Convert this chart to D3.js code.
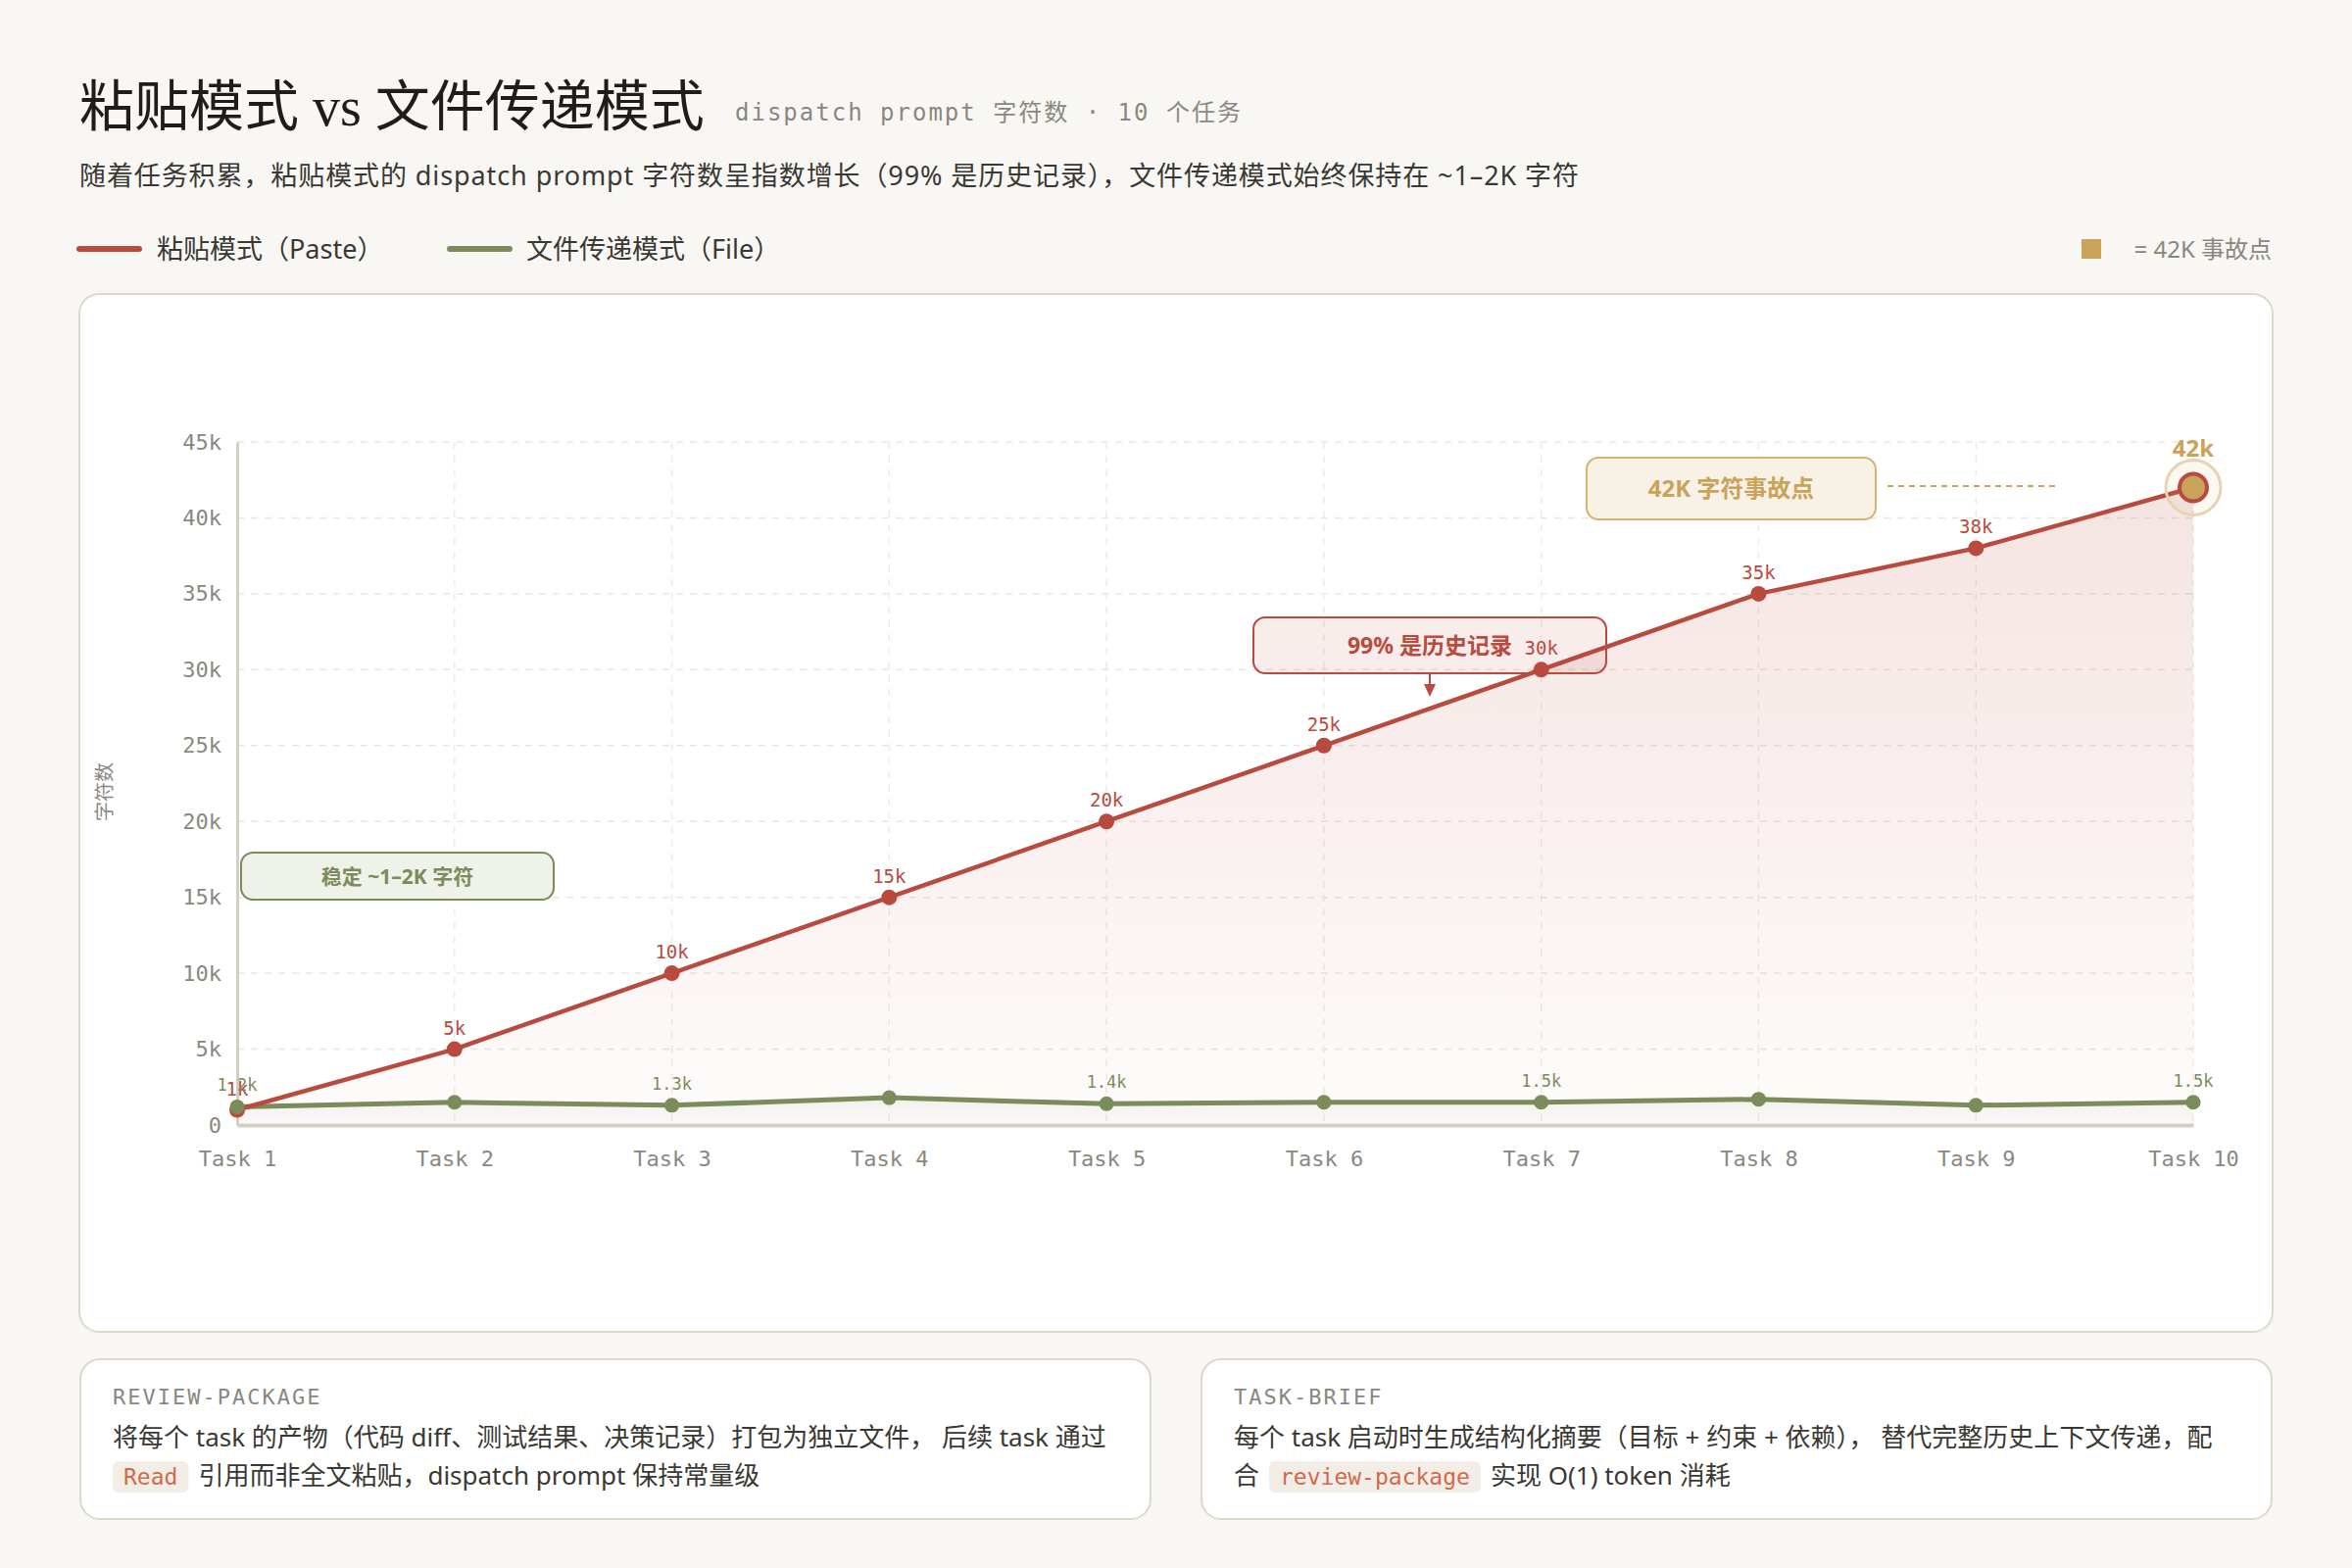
<!DOCTYPE html>
<html>
<head>
<meta charset="utf-8">
<script src="https://cdn.jsdelivr.net/npm/d3@7"></script>
<style>
  body { margin: 0; background: #f9f7f3; }
</style>
</head>
<body>
<div id="chart"></div>
<script>
// chart data
const tasks = ["Task 1", "Task 2", "Task 3", "Task 4", "Task 5", "Task 6", "Task 7", "Task 8", "Task 9", "Task 10"];
const pasteValues = [1000, 5000, 10000, 15000, 20000, 25000, 30000, 35000, 38000, 42000];
const pasteLabels = ["1k", "5k", "10k", "15k", "20k", "25k", "30k", "35k", "38k", "42k"];
const fileValues = [1200, 1500, 1300, 1800, 1400, 1500, 1500, 1700, 1300, 1500];
const fileLabels = ["1.2k", "", "1.3k", "", "1.4k", "", "1.5k", "", "", "1.5k"];
const yTicks = [0, 5000, 10000, 15000, 20000, 25000, 30000, 35000, 40000, 45000];

const width = 2400, height = 1600;
const RED = "#b84a3e", GREEN = "#7a8c5a", GOLD = "#c9a35a", GRAY = "#8a877f", INK = "#3a3833";
const SANS = "'Noto Sans','Noto Sans CJK SC',sans-serif";
const MONO = "'DejaVu Sans Mono','Noto Sans CJK SC',monospace";
const SERIF = "'Liberation Serif','Noto Sans CJK SC',serif";

const svg = d3.select("#chart").append("svg")
  .attr("width", width).attr("height", height)
  .style("display", "block")
  .style("background", "#f9f7f3");

const defs = svg.append("defs");
let g1 = defs.append("linearGradient").attr("id", "redFill")
  .attr("gradientUnits", "userSpaceOnUse").attr("x1", 0).attr("x2", 0).attr("y1", 451).attr("y2", 1148);
g1.append("stop").attr("offset", "0%").attr("stop-color", RED).attr("stop-opacity", 0.16);
g1.append("stop").attr("offset", "100%").attr("stop-color", RED).attr("stop-opacity", 0.02);
let g2 = defs.append("linearGradient").attr("id", "greenFill")
  .attr("gradientUnits", "userSpaceOnUse").attr("x1", 0).attr("x2", 0).attr("y1", 1115).attr("y2", 1148);
g2.append("stop").attr("offset", "0%").attr("stop-color", GREEN).attr("stop-opacity", 0.10);
g2.append("stop").attr("offset", "100%").attr("stop-color", GREEN).attr("stop-opacity", 0.02);

// header
svg.append("text").attr("x", 81).attr("y", 128)
  .attr("font-family", SERIF).attr("font-size", 56).attr("fill", "#1f1d1a")
  .text("粘贴模式 vs 文件传递模式");
svg.append("text").attr("x", 750).attr("y", 123)
  .attr("font-family", MONO).attr("font-size", 24).attr("letter-spacing", 2).attr("fill", GRAY)
  .text("dispatch prompt 字符数 · 10 个任务");
svg.append("text").attr("x", 81).attr("y", 189)
  .attr("font-family", SANS).attr("font-size", 27).attr("fill", INK)
  .attr("textLength", 1530).attr("lengthAdjust", "spacing")
  .text("随着任务积累，粘贴模式的 dispatch prompt 字符数呈指数增长（99% 是历史记录），文件传递模式始终保持在 ~1–2K 字符");

// legend
svg.append("line").attr("x1", 81).attr("x2", 142).attr("y1", 254).attr("y2", 254)
  .attr("stroke", RED).attr("stroke-width", 6).attr("stroke-linecap", "round");
svg.append("text").attr("x", 160).attr("y", 264).attr("font-family", SANS).attr("font-size", 27).attr("fill", INK)
  .text("粘贴模式（Paste）");
svg.append("line").attr("x1", 459).attr("x2", 520).attr("y1", 254).attr("y2", 254)
  .attr("stroke", GREEN).attr("stroke-width", 6).attr("stroke-linecap", "round");
svg.append("text").attr("x", 537).attr("y", 264).attr("font-family", SANS).attr("font-size", 27).attr("fill", INK)
  .text("文件传递模式（File）");
svg.append("rect").attr("x", 2124).attr("y", 244).attr("width", 20).attr("height", 20).attr("fill", GOLD);
svg.append("text").attr("x", 2318).attr("y", 263).attr("text-anchor", "end")
  .attr("font-family", SANS).attr("font-size", 24).attr("fill", GRAY)
  .text("= 42K 事故点");

// chart frame
svg.append("rect").attr("x", 81).attr("y", 300).attr("width", 2238).attr("height", 1059)
  .attr("rx", 20).attr("fill", "#fff").attr("stroke", "#dcd8cd").attr("stroke-width", 2);

// scales
const x = d3.scalePoint().domain(tasks).range([242, 2238]);
const y = d3.scaleLinear().domain([0, 45000]).range([1148, 451]);

// grid
svg.append("g").selectAll("line").data(yTicks.slice(1)).enter().append("line")
  .attr("x1", 242).attr("x2", 2238).attr("y1", d => y(d)).attr("y2", d => y(d))
  .attr("stroke", "#ebe7df").attr("stroke-width", 1.5).attr("stroke-dasharray", "7,7");
svg.append("g").selectAll("line").data(tasks.slice(1)).enter().append("line")
  .attr("x1", d => x(d)).attr("x2", d => x(d)).attr("y1", y(45000)).attr("y2", y(0))
  .attr("stroke", "#efebe4").attr("stroke-width", 1.5).attr("stroke-dasharray", "7,7");

// areas
const pasteData = tasks.map((t, i) => ({ t: t, v: pasteValues[i], label: pasteLabels[i] }));
const fileData = tasks.map((t, i) => ({ t: t, v: fileValues[i], label: fileLabels[i] }));
svg.append("path").datum(pasteData)
  .attr("d", d3.area().x(d => x(d.t)).y0(y(0)).y1(d => y(d.v)))
  .attr("fill", "url(#redFill)");
svg.append("path").datum(fileData)
  .attr("d", d3.area().x(d => x(d.t)).y0(y(0)).y1(d => y(d.v)))
  .attr("fill", "url(#greenFill)");

// axes
let yAxis = d3.axisLeft(y).tickValues(yTicks).tickSize(0).tickPadding(16)
  .tickFormat(d => d === 0 ? "0" : (d / 1000) + "k");
let yG = svg.append("g").attr("transform", "translate(242,0)").call(yAxis);
yG.select(".domain").attr("stroke", "#d3cfc4").attr("stroke-width", 3);
yG.selectAll("text").attr("font-family", MONO).attr("font-size", 22).attr("fill", GRAY);

let xAxis = d3.axisBottom(x).tickSize(0).tickPadding(26);
let xG = svg.append("g").attr("transform", "translate(0,1148)").call(xAxis);
xG.select(".domain").attr("stroke", "#d3cfc4").attr("stroke-width", 4);
xG.selectAll("text").attr("font-family", MONO).attr("font-size", 22).attr("fill", GRAY);

svg.append("text").attr("transform", "translate(114,808) rotate(-90)")
  .attr("text-anchor", "middle").attr("font-family", SANS).attr("font-size", 20).attr("fill", GRAY)
  .text("字符数");

// annotation boxes
function noteBox(x0, y0, w, h, fill, stroke, color, label, size) {
  svg.append("rect").attr("x", x0).attr("y", y0).attr("width", w).attr("height", h).attr("rx", 12)
    .attr("fill", fill).attr("stroke", stroke).attr("stroke-width", 2);
  svg.append("text").attr("x", x0 + w / 2).attr("y", y0 + h / 2).attr("dy", "0.36em")
    .attr("text-anchor", "middle").attr("font-family", SANS).attr("font-weight", 700)
    .attr("font-size", size).attr("fill", color).text(label);
}
noteBox(246, 870, 319, 48, "#eef2e9", GREEN, GREEN, "稳定 ~1–2K 字符", 21);
noteBox(1279, 630, 360, 57, "rgba(184,74,62,0.10)", RED, RED, "99% 是历史记录", 23);
svg.append("line").attr("x1", 1459).attr("x2", 1459).attr("y1", 687).attr("y2", 700)
  .attr("stroke", RED).attr("stroke-width", 2);
svg.append("path").attr("d", "M1453,698L1465,698L1459,711Z").attr("fill", RED);
noteBox(1619, 467, 295, 63, "#f8f2e6", "#d6b46e", GOLD, "42K 字符事故点", 24);
svg.append("line").attr("x1", 1926).attr("x2", 2099).attr("y1", 496).attr("y2", 496)
  .attr("stroke", GOLD).attr("stroke-width", 2).attr("stroke-dasharray", "6,5");

// lines
svg.append("path").datum(fileData)
  .attr("d", d3.line().x(d => x(d.t)).y(d => y(d.v)))
  .attr("fill", "none").attr("stroke", GREEN).attr("stroke-width", 5).attr("stroke-linejoin", "round");
svg.append("path").datum(pasteData)
  .attr("d", d3.line().x(d => x(d.t)).y(d => y(d.v)))
  .attr("fill", "none").attr("stroke", RED).attr("stroke-width", 4.5).attr("stroke-linejoin", "round");

// paste points and labels
let pLast = pasteData[pasteData.length - 1];
svg.append("g").selectAll("circle").data(pasteData.slice(0, -1)).enter().append("circle")
  .attr("cx", d => x(d.t)).attr("cy", d => y(d.v)).attr("r", 8).attr("fill", RED);
svg.append("g").selectAll("text").data(pasteData.slice(0, -1)).enter().append("text")
  .attr("x", d => x(d.t)).attr("y", d => y(d.v) - 15).attr("text-anchor", "middle")
  .attr("font-family", MONO).attr("font-size", 19).attr("fill", RED)
  .text(d => d.label);

// file points and labels
svg.append("g").selectAll("circle").data(fileData).enter().append("circle")
  .attr("cx", d => x(d.t)).attr("cy", d => y(d.v)).attr("r", 7.5).attr("fill", GREEN);
svg.append("g").selectAll("text").data(fileData.filter(d => d.label)).enter().append("text")
  .attr("x", d => x(d.t)).attr("y", d => y(d.v) - 16).attr("text-anchor", "middle")
  .attr("font-family", MONO).attr("font-size", 17).attr("fill", GREEN)
  .text(d => d.label);

// 42k incident point
svg.append("circle").attr("cx", x(pLast.t)).attr("cy", y(pLast.v)).attr("r", 28)
  .attr("fill", "rgba(201,163,90,0.08)").attr("stroke", "#e6d4b0").attr("stroke-width", 3);
svg.append("circle").attr("cx", x(pLast.t)).attr("cy", y(pLast.v)).attr("r", 14)
  .attr("fill", GOLD).attr("stroke", RED).attr("stroke-width", 4);
svg.append("text").attr("x", x(pLast.t)).attr("y", y(pLast.v) - 31).attr("text-anchor", "middle")
  .attr("font-family", SANS).attr("font-weight", 700).attr("font-size", 24).attr("fill", GOLD)
  .text(pLast.label);

// bottom cards
function richLine(xs, ys, parts) {
  let cx = xs;
  parts.forEach(p => {
    if (p.code) {
      let gr = svg.append("g");
      let r = gr.append("rect");
      let t = gr.append("text").attr("x", cx + 11).attr("y", ys)
        .attr("font-family", MONO).attr("font-size", 23).attr("fill", "#d2694a").text(p.text);
      let w = t.node().getComputedTextLength() + 22;
      r.attr("x", cx).attr("y", ys - 24).attr("width", w).attr("height", 32).attr("rx", 6).attr("fill", "#f2eee7");
      cx += w + 10;
    } else {
      let t = svg.append("text").attr("x", cx).attr("y", ys)
        .attr("font-family", SANS).attr("font-size", 26).attr("fill", INK).text(p.text);
      cx += t.node().getComputedTextLength() + 10;
    }
  });
}
function card(x0, title, line1, line2) {
  svg.append("rect").attr("x", x0).attr("y", 1387).attr("width", 1092).attr("height", 163).attr("rx", 20)
    .attr("fill", "#fff").attr("stroke", "#dcd8cd").attr("stroke-width", 2);
  svg.append("text").attr("x", x0 + 33).attr("y", 1433)
    .attr("font-family", MONO).attr("font-size", 22).attr("letter-spacing", 2).attr("fill", GRAY).text(title);
  richLine(x0 + 33, 1476, line1);
  richLine(x0 + 33, 1515, line2);
}
card(82, "REVIEW-PACKAGE",
  [{ text: "将每个 task 的产物（代码 diff、测试结果、决策记录）打包为独立文件， 后续 task 通过" }],
  [{ text: "Read", code: true }, { text: "引用而非全文粘贴，dispatch prompt 保持常量级" }]);
card(1226, "TASK-BRIEF",
  [{ text: "每个 task 启动时生成结构化摘要（目标 + 约束 + 依赖）， 替代完整历史上下文传递，配" }],
  [{ text: "合" }, { text: "review-package", code: true }, { text: "实现 O(1) token 消耗" }]);
</script>
</body>
</html>
